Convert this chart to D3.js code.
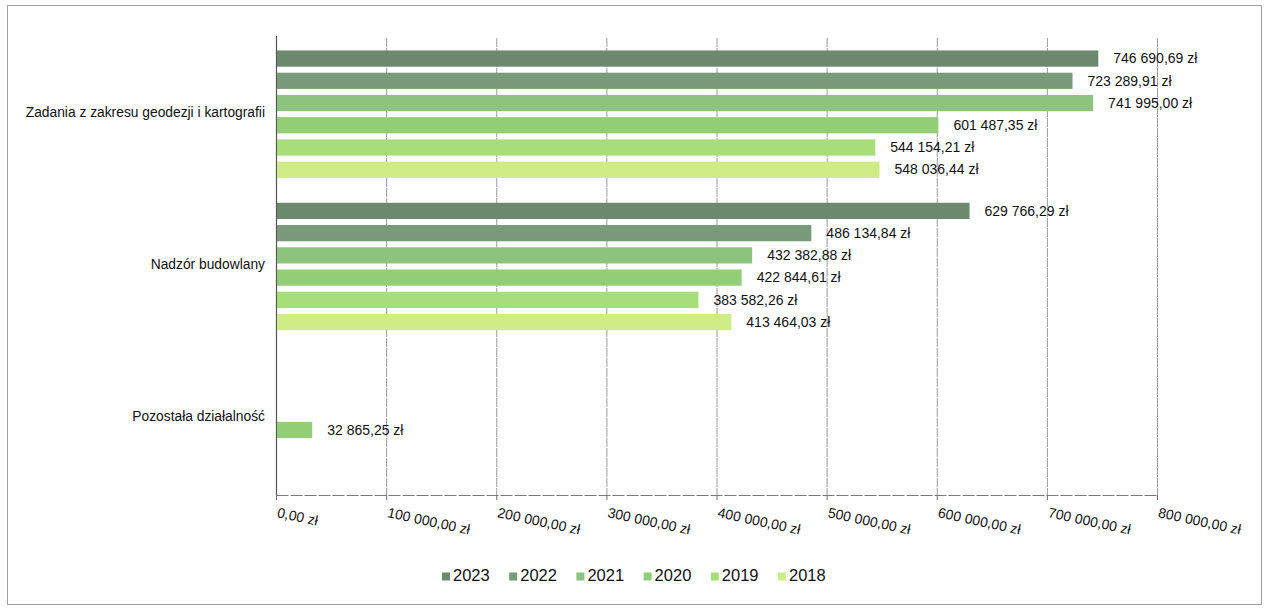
<!DOCTYPE html>
<html lang="pl">
<head>
<meta charset="utf-8">
<script src="https://cdn.jsdelivr.net/npm/d3@7"></script>
<style>
  html, body { margin: 0; padding: 0; background: #ffffff; }
  svg { display: block; font-family: "Liberation Sans", Arial, sans-serif; }
</style>
</head>
<body>
<svg id="chart" width="1268" height="609"></svg>
<script>
// Categories (top to bottom) and years (series, top to bottom inside each category)
const categories = [
  "Zadania z zakresu geodezji i kartografii",
  "Nadzór budowlany",
  "Pozostała działalność"
];
const years = ["2023", "2022", "2021", "2020", "2019", "2018"];

// Values per year, in category order (null = no bar)
const values2023 = [746690.69, 629766.29, null];
const values2022 = [723289.91, 486134.84, null];
const values2021 = [741995.00, 432382.88, null];
const values2020 = [601487.35, 422844.61, 32865.25];
const values2019 = [544154.21, 383582.26, null];
const values2018 = [548036.44, 413464.03, null];

const xTicks = [0, 100000, 200000, 300000, 400000, 500000, 600000, 700000, 800000];

const seriesColors = ["#6c886d", "#7a9b7a", "#8ec37f", "#93cd76", "#a6de7a", "#d0ec87"];

const seriesValues = [values2023, values2022, values2021, values2020, values2019, values2018];

const rows = [];
years.forEach((y, si) => {
  categories.forEach((c, ci) => {
    const v = seriesValues[si][ci];
    if (v !== null) rows.push({ year: y, category: c, value: v, color: seriesColors[si] });
  });
});

// Polish currency formatting: "746 690,69 zł"
const plFormat = d3.formatLocale({
  decimal: ",", thousands: " ", grouping: [3], currency: ["", " zł"]
}).format("$,.2f");

const svg = d3.select("#chart");

// outer frame of the chart object
svg.append("rect")
  .attr("x", 7.5).attr("y", 5.5).attr("width", 1254).attr("height", 599)
  .attr("fill", "none").attr("stroke", "#a0a0a0").attr("stroke-width", 1);

const plot = { left: 276, right: 1157, top: 38, bottom: 495 };

const x = d3.scaleLinear().domain([0, 800000]).range([plot.left, plot.right]);
const yCat = d3.scaleBand().domain(categories).range([plot.top, plot.bottom]).padding(0);
const yYear = d3.scaleBand().domain(years).range([0, yCat.bandwidth()])
  .paddingInner(0.27).paddingOuter(0.56);

// vertical gridlines
svg.append("g")
  .selectAll("line")
  .data(xTicks.slice(1))
  .join("line")
  .attr("x1", d => x(d) + 0.5).attr("x2", d => x(d) + 0.5)
  .attr("y1", plot.top).attr("y2", plot.bottom)
  .attr("stroke", "#9a9a9a").attr("stroke-width", 1)
  .attr("stroke-dasharray", "9,1");

// bottom axis with tick marks and rotated labels
const xAxis = d3.axisBottom(x)
  .tickValues(xTicks)
  .tickSize(5)
  .tickSizeOuter(0)
  .tickFormat(d => plFormat(d));

const gx = svg.append("g")
  .attr("transform", `translate(0,${plot.bottom})`)
  .call(xAxis);
gx.select(".domain").attr("stroke", "#7a7a7a").attr("stroke-dasharray", "12,2");
gx.selectAll(".tick line").attr("stroke", "#6e6e6e");
gx.selectAll(".tick text")
  .attr("fill", "#111111")
  .attr("font-size", "14px")
  .attr("text-anchor", "start")
  .attr("dy", null)
  .attr("y", 0)
  .attr("transform", "translate(0,22) rotate(12)");

// left axis line (category axis)
svg.append("line")
  .attr("x1", plot.left + 0.5).attr("x2", plot.left + 0.5)
  .attr("y1", plot.top - 2).attr("y2", plot.bottom)
  .attr("stroke", "#555555").attr("stroke-width", 1.2);

// category labels, centred on each category band
svg.append("g")
  .selectAll("text")
  .data(categories)
  .join("text")
  .attr("x", 265)
  .attr("y", d => yCat(d) + yCat.bandwidth() / 2 - 1)
  .attr("text-anchor", "end")
  .attr("dominant-baseline", "middle")
  .attr("font-size", "13.8px")
  .attr("fill", "#111111")
  .text(d => d);

// bars
svg.append("g")
  .selectAll("rect")
  .data(rows)
  .join("rect")
  .attr("x", x(0) + 1)
  .attr("y", d => yCat(d.category) + yYear(d.year))
  .attr("width", d => x(d.value) - x(0) - 1)
  .attr("height", yYear.bandwidth())
  .attr("fill", d => d.color);

// value labels
svg.append("g")
  .selectAll("text")
  .data(rows)
  .join("text")
  .attr("x", d => x(d.value) + 15)
  .attr("y", d => yCat(d.category) + yYear(d.year) + yYear.bandwidth() / 2 + 1)
  .attr("dominant-baseline", "middle")
  .attr("font-size", "14px")
  .attr("fill", "#111111")
  .text(d => plFormat(d.value));

// legend
const legend = svg.append("g").attr("transform", "translate(442,577)");
const item = legend.selectAll("g")
  .data(years)
  .join("g")
  .attr("transform", (d, i) => `translate(${i * 67.2},0)`);
item.append("rect")
  .attr("x", 0).attr("y", -4.5).attr("width", 8).attr("height", 8)
  .attr("fill", (d, i) => seriesColors[i]);
item.append("text")
  .attr("x", 11).attr("y", 0)
  .attr("dominant-baseline", "middle")
  .attr("font-size", "16.5px")
  .attr("fill", "#111111")
  .text(d => d);
</script>
</body>
</html>
